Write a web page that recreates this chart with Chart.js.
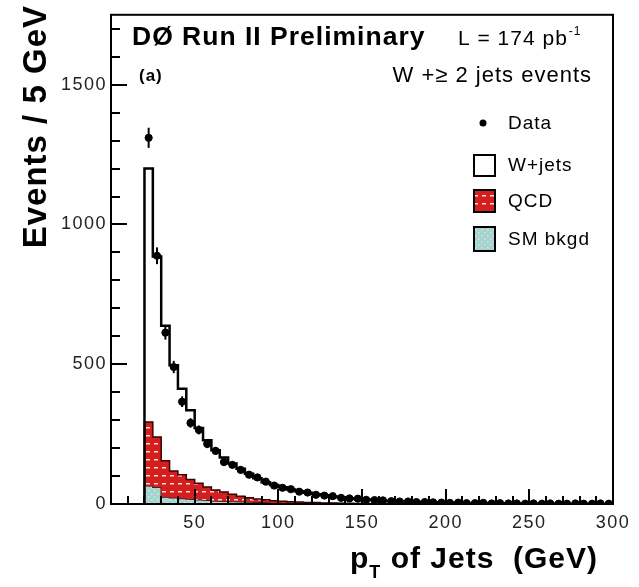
<!DOCTYPE html>
<html><head><meta charset="utf-8">
<script src="https://cdn.jsdelivr.net/npm/chart.js@4.4.1/dist/chart.umd.min.js"></script>
<style>html,body{margin:0;padding:0;background:#fff;}#wrap{width:639px;height:587px;}</style>
</head><body><div id="wrap"><canvas id="c" width="639" height="587"></canvas></div>
<script>
// Bin low edges (GeV), 5 GeV bins
const BIN_LOW = [20,25,30,35,40,45,50,55,60,65,70,75,80,85,90,95,100,105,110,115,120,125,130,135,140,145,150,155,160,165,170,175,180,185,190,195,200,205,210,215,220,225,230,235,240,245,250,255,260,265,270,275,280,285,290,295];
const BIN_WIDTH = 5;
// SM background component
const SM_BKGD = [65,60,25,22,20,17,15,13,11,10, 9,8,7,6,5,4,4,3,3,2.5, 2,2,1.5,1.5,1.2,1,1,0.8,0.8,0.6, 0.6,0.5,0.5,0.4,0.4,0.3,0.3,0.3,0.2,0.2, 0.2,0.2,0.1,0.1,0.1,0.1,0.1,0.1,0.1,0.1, 0.1,0.1,0.1,0.1,0.1,0.1];
// QCD component
const QCD = [228,180,130,96,85,71,59,48,39,33, 26,20,15,12,10,8,6,5,4,3, 3,2,2,1.5,1.2,1,1,0.8,0.6,0.5, 0.5,0.4,0.4,0.3,0.3,0.2,0.2,0.2,0.2,0.1, 0.1,0.1,0.1,0.1,0.1,0.1,0.1,0.1,0.1,0.1, 0.1,0.1,0.1,0.1,0.1,0.1];
// W+jets component
const WJETS = [907,645,483,378,307,247,198,167,142,123, 110,98,86,74,63,56,50,44,39,34.5, 30,27,23.5,21,18.6,16,14,12.4,10.6,9.9, 8.9,8.1,7.1,6.3,5.3,5,4.5,4,3.6,3.2, 2.9,2.7,2.5,2.2,2,1.8,1.6,1.4,1.3,1.2, 1.1,1.0,0.9,0.8,0.8,0.7];
// Data and its errors
const DATA = [1310,888,613,490,366,290,265,215,190,150, 140,122,105,95,80,66,58,53,44,41, 33,30,28,22,20,19,15,14,13,10, 9,9,7,7,6,5,4,5,3,3, 4,2,3,2,2,1,2,1,2,1, 1,2,1,1,2,1];
const DATA_ERR = [36,30,25,22,19,17,16,15,14,12, 12,11,10,10,9,8,8,7,7,6, 6,5,5,5,4,4,4,4,4,3, 3,3,3,3,2,2,2,2,2,2, 2,1,2,1,1,1,1,1,1,1, 1,1,1,1,1,1];
const X_TICKS = [50,100,150,200,250,300];
const Y_TICKS = [0,500,1000,1500];

const FONT = '"Liberation Sans", Arial, Helvetica, sans-serif';

function makePattern(bg, fg, w, h, drawFg){
  const c = document.createElement('canvas'); c.width=w; c.height=h;
  const x = c.getContext('2d');
  x.fillStyle = bg; x.fillRect(0,0,w,h);
  x.fillStyle = fg; drawFg(x);
  return x.createPattern(c,'repeat');
}
const redPat = makePattern('#d41f1f','#ffd6d6',8,8,(x)=>{x.fillRect(2,3,4,1.5);});
const tealPat = makePattern('#a7d3cf','#cfe9e6',6,6,(x)=>{x.fillRect(1,1,1.5,1.5);x.fillRect(4,4,1.5,1.5);});

// cumulative stacks
const cumSM = SM_BKGD.slice();
const cumQCD = SM_BKGD.map((v,i)=>v+QCD[i]);
const cumTot = cumQCD.map((v,i)=>v+WJETS[i]);

function stepPts(vals){
  const pts=[{x:BIN_LOW[0],y:0}];
  vals.forEach((v,i)=>pts.push({x:BIN_LOW[i],y:v}));
  pts.push({x:BIN_LOW[BIN_LOW.length-1]+BIN_WIDTH,y:vals[vals.length-1]});
  return pts;
}

const overlay = {
  id:'overlay',
  beforeDraw(chart){
    const ctx=chart.ctx;
    ctx.save(); ctx.fillStyle='#fff'; ctx.fillRect(0,0,chart.width,chart.height); ctx.restore();
    try{ ctx.letterSpacing='1.5px'; }catch(e){}
  },
  afterDatasetsDraw(chart){
    const ctx=chart.ctx, xs=chart.scales.x, ys=chart.scales.y, a=chart.chartArea;
    ctx.save();
    ctx.strokeStyle='#000'; ctx.lineWidth=2;
    DATA.forEach((v,i)=>{
      const px=xs.getPixelForValue(BIN_LOW[i]+BIN_WIDTH/2);
      ctx.beginPath();
      ctx.moveTo(px, ys.getPixelForValue(Math.max(0,v-DATA_ERR[i])));
      ctx.lineTo(px, ys.getPixelForValue(v+DATA_ERR[i]));
      ctx.stroke();
    });
    ctx.lineWidth=2;
    for(let v=0; v<=1700; v+=100){
      const py=Math.round(ys.getPixelForValue(v));
      const len = (v%500===0)?16:9;
      ctx.beginPath(); ctx.moveTo(a.left,py); ctx.lineTo(a.left+len,py); ctx.stroke();
    }
    for(let v=10; v<300; v+=10){
      const px=Math.round(xs.getPixelForValue(v));
      const len = (v%50===0)?15:8;
      ctx.beginPath(); ctx.moveTo(px,a.bottom); ctx.lineTo(px,a.bottom-len); ctx.stroke();
    }
    ctx.lineWidth=2;
    ctx.strokeRect(a.left,a.top,a.right-a.left,a.bottom-a.top);
    ctx.restore();
  },
  afterDraw(chart){
    const ctx=chart.ctx;
    ctx.save();
    ctx.fillStyle='#000';
    ctx.textBaseline='alphabetic';
    try{ ctx.letterSpacing='1px'; }catch(e){}
    ctx.font='bold 26.5px '+FONT; ctx.textAlign='left';
    ctx.fillText('DØ Run II Preliminary',132,45);
    ctx.font='21px '+FONT;
    ctx.fillText('L = 174 pb',458,45);
    const lw=ctx.measureText('L = 174 pb').width;
    ctx.font='12px '+FONT;
    ctx.fillText('-1',458+lw+1,35);
    ctx.font='22px '+FONT; ctx.textAlign='right';
    ctx.fillText('W +\u2265 2 jets events',592,82);
    ctx.textAlign='left'; ctx.font='bold 17px '+FONT;
    ctx.fillText('(a)',139,81);
    // legend
    ctx.font='19px '+FONT; ctx.textBaseline='middle';
    ctx.beginPath(); ctx.arc(483,123,3.5,0,Math.PI*2); ctx.fill();
    ctx.fillText('Data',508,124);
    ctx.lineWidth=2; ctx.strokeStyle='#000';
    ctx.fillStyle='#fff'; ctx.fillRect(474,155,21,21); ctx.strokeRect(474,155,21,21);
    ctx.fillStyle=redPat; ctx.fillRect(474,190,21,22); ctx.strokeRect(474,190,21,22);
    ctx.fillStyle=tealPat; ctx.fillRect(474,227,21,24); ctx.strokeRect(474,227,21,24);
    ctx.fillStyle='#000';
    ctx.fillText('W+jets',508,166);
    ctx.fillText('QCD',508,202);
    ctx.fillText('SM bkgd',508,240);
    // x title
    ctx.textBaseline='alphabetic'; ctx.textAlign='left';
    const big='bold 30px '+FONT, sub='bold 18px '+FONT;
    ctx.font=big; const w1=ctx.measureText('p').width;
    ctx.font=sub; const w2=ctx.measureText('T').width;
    ctx.font=big; const rest=' of Jets  (GeV)'; const w3=ctx.measureText(rest).width;
    let sx=598-(w1+w2+w3);
    ctx.fillText('p',sx,568);
    ctx.font=sub; ctx.fillText('T',sx+w1,578);
    ctx.font=big; ctx.fillText(rest,sx+w1+w2,568);
    // y title
    ctx.translate(46,5); ctx.rotate(-Math.PI/2);
    ctx.textAlign='right'; ctx.font='bold 33px '+FONT;
    ctx.fillText('Events / 5 GeV',0,0);
    ctx.restore();
  }
};

new Chart(document.getElementById('c'),{
  type:'line',
  data:{datasets:[
    {label:'SM bkgd',data:stepPts(cumSM),stepped:true,borderColor:'#222',borderWidth:1.5,backgroundColor:tealPat,fill:'origin',pointRadius:0,order:4},
    {label:'QCD',data:stepPts(cumQCD),stepped:true,borderColor:'#3a0000',borderWidth:1.5,backgroundColor:redPat,fill:0,pointRadius:0,order:3},
    {label:'W+jets',data:stepPts(cumTot),stepped:true,borderColor:'#000',borderWidth:2.5,backgroundColor:'rgba(255,255,255,0)',fill:false,pointRadius:0,order:2},
    {label:'Data',data:DATA.map((v,i)=>({x:BIN_LOW[i]+BIN_WIDTH/2,y:v})),showLine:false,pointRadius:3.6,pointBackgroundColor:'#000',pointBorderColor:'#000',borderColor:'#000',order:1}
  ]},
  options:{
    responsive:false, animation:false, devicePixelRatio:1,
    layout:{padding:{left:0,right:26,top:8,bottom:0}},
    plugins:{legend:{display:false},tooltip:{enabled:false}},
    scales:{
      x:{type:'linear',min:0,max:300,
        afterBuildTicks:(s)=>{s.ticks=X_TICKS.map(v=>({value:v}));},
        ticks:{font:{family:FONT,size:18},color:'#222',padding:8,maxRotation:0,autoSkip:false,callback:(v)=>String(v)},
        grid:{display:false,drawTicks:false},border:{display:false},
        afterFit:(s)=>{s.height=83;}},
      y:{type:'linear',min:0,max:1750,
        afterBuildTicks:(s)=>{s.ticks=Y_TICKS.map(v=>({value:v}));},
        ticks:{font:{family:FONT,size:18},color:'#222',padding:4,autoSkip:false,callback:(v)=>String(v)},
        grid:{display:false,drawTicks:false},border:{display:false},
        afterFit:(s)=>{s.width=111;}}
    }
  },
  plugins:[overlay]
});
</script></body></html>
